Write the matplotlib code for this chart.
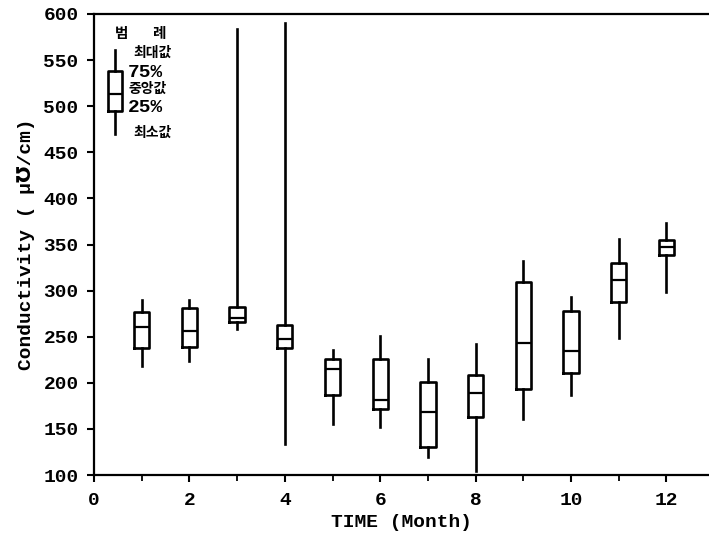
import matplotlib
matplotlib.use("Agg")
import matplotlib.pyplot as plt

months = [1, 2, 3, 4, 5, 6, 7, 8, 9, 10, 11, 12]
whislo = [218, 224, 258, 134, 155, 152, 120, 104, 161, 187, 249, 299]
q1 = [238, 239, 266, 238, 187, 172, 130, 163, 193, 211, 288, 339]
med = [261, 256, 270, 248, 215, 181, 168, 189, 243, 235, 311, 347]
q3 = [277, 281, 282, 263, 226, 226, 201, 208, 309, 278, 330, 355]
whishi = [290, 290, 584, 590, 236, 251, 226, 242, 332, 293, 356, 373]

legend_stats = [470, 495, 513, 538, 561]
legend_labels = ["최소값", "25%", "중앙값", "75%", "최대값"]
legend_title = "범 례"

xticks = [0, 2, 4, 6, 8, 10, 12]
yticks = [100, 150, 200, 250, 300, 350, 400, 450, 500, 550, 600]

mono = ["Liberation Mono", "DejaVu Sans"]
kr = ["Noto Sans CJK KR", "DejaVu Sans"]

fig = plt.figure(figsize=(7.09, 5.36), dpi=100)
ax = fig.add_axes([94 / 709, 1 - 475 / 536, 1 - 94 / 709, (475 - 14) / 536])

stats = []
for i in range(len(months)):
    stats.append(dict(whislo=whislo[i], q1=q1[i], med=med[i], q3=q3[i], whishi=whishi[i]))

lw = 1.9
props = dict(color="black", linewidth=lw)
ax.bxp(stats, positions=months, widths=0.32, showcaps=False, showfliers=False,
       boxprops=props, whiskerprops=props, medianprops=dict(color="black", linewidth=1.6))

# legend glyph
lo, p25, p50, p75, hi = legend_stats
ax.bxp([dict(whislo=lo, q1=p25, med=p50, q3=p75, whishi=hi)], positions=[0.44], widths=0.29,
       showcaps=False, showfliers=False, boxprops=props, whiskerprops=props,
       medianprops=dict(color="black", linewidth=1.6), manage_ticks=False)

t1, t2 = legend_title.split()
ax.text(0.44, 579, t1, fontfamily=kr, fontweight="bold", fontsize=10.5, va="center", ha="left")
ax.text(1.22, 579, t2, fontfamily=kr, fontweight="bold", fontsize=10.5, va="center", ha="left")
ax.text(0.82, 558, legend_labels[4], fontfamily=kr, fontweight="bold", fontsize=10, va="center", ha="left")
ax.text(0.70, 537, legend_labels[3], fontfamily=mono, fontweight="bold", fontsize=14, va="center", ha="left")
ax.text(0.73, 519, legend_labels[2], fontfamily=kr, fontweight="bold", fontsize=10, va="center", ha="left")
ax.text(0.70, 499, legend_labels[1], fontfamily=mono, fontweight="bold", fontsize=14, va="center", ha="left")
ax.text(0.82, 471, legend_labels[0], fontfamily=kr, fontweight="bold", fontsize=10, va="center", ha="left")

ax.set_xlim(0, (709 - 94) / 47.7)
ax.set_ylim(100, 600)
ax.set_xticks(xticks)
ax.set_xticks([1, 3, 5, 7, 9, 11], minor=True)
ax.set_yticks(yticks)
ax.set_xticklabels([str(t) for t in xticks], fontfamily=mono, fontweight="bold", fontsize=14)
ax.set_yticklabels([str(t) for t in yticks], fontfamily=mono, fontweight="bold", fontsize=14)
ax.tick_params(axis="both", which="major", direction="out", length=5, width=1.5)
ax.tick_params(axis="y", which="major", pad=6)
ax.tick_params(axis="x", which="major", pad=7)
ax.tick_params(axis="x", which="minor", direction="out", length=4, width=1.3)

for s in ["left", "bottom", "top"]:
    ax.spines[s].set_linewidth(1.6)
ax.spines["right"].set_visible(False)

ax.set_xlabel("TIME (Month)", fontfamily=mono, fontweight="bold", fontsize=14, labelpad=4)
ax.set_ylabel("Conductivity ( μ℧/cm)", fontfamily=mono, fontweight="bold", fontsize=14, labelpad=6)

fig.savefig("out.png", dpi=100)
